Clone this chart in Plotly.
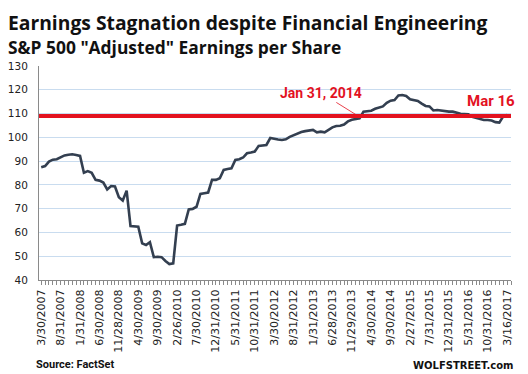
import plotly.graph_objects as go

# ---- data ----
tick_labels = ["3/30/2007", "8/31/2007", "1/31/2008", "6/30/2008", "11/28/2008",
               "4/30/2009", "9/30/2009", "2/26/2010", "7/30/2010", "12/31/2010",
               "5/31/2011", "10/31/2011", "3/30/2012", "8/31/2012", "1/31/2013",
               "6/28/2013", "11/29/2013", "4/30/2014", "9/30/2014", "2/27/2015",
               "7/31/2015", "12/31/2015", "5/31/2016", "10/31/2016", "3/16/2017"]
label_step = 5  # one label every 5 monthly points

eps = [87.4, 87.9, 89.8, 90.6, 90.8, 91.6, 92.4, 92.7, 92.9, 92.6,
       92.2, 85.1, 85.8, 85.1, 82.1, 81.8, 81.0, 78.1, 79.5, 79.3,
       74.8, 73.4, 77.6, 62.7, 62.7, 62.4, 55.4, 54.7, 55.9, 49.6,
       49.8, 49.6, 48.0, 46.7, 47.0, 62.9, 63.2, 63.6, 69.7, 69.9,
       70.8, 76.2, 76.5, 76.8, 82.1, 82.1, 82.8, 86.3, 86.7, 87.0,
       90.5, 90.8, 91.5, 93.3, 93.6, 94.0, 96.4, 96.5, 96.8, 99.7,
       99.3, 99.1, 98.9, 99.2, 100.2, 100.9, 101.3, 102.2, 102.6, 102.9,
       103.1, 102.1, 102.4, 102.1, 103.2, 104.2, 104.8, 104.9, 105.4, 106.7,
       107.4, 107.8, 108.0, 110.8, 111.1, 111.2, 112.0, 112.5, 113.0, 114.5,
       115.4, 115.7, 117.6, 117.8, 117.4, 116.0, 115.7, 115.3, 114.2, 113.2,
       113.0, 111.3, 111.5, 111.2, 111.0, 110.8, 110.8, 110.3, 109.9, 109.8,
       109.7, 108.6, 108.1, 107.6, 107.3, 107.3, 107.1, 106.4, 106.2, 108.8,
       109.4]

reference_level = 109.0        # Jan 31, 2014 level
jan2014_index = 81.6           # where the line crosses the level
annot_jan = "Jan 31, 2014"
annot_mar = "Mar 16"

x_idx = list(range(len(eps)))
tickvals = list(range(0, len(eps), label_step))

RED = "#e3121f"
LINE = "#333f50"
GRID = "#c9dcef"
AXIS = "#8a8a8a"
TXT = "#222222"

# page body has an 8px default margin: figure is 8px smaller and offset
OFF = 8
PL, PR, PT, PB = 39, 511, 66, 280   # plot area in screen pixels
PW, PH = PR - PL, PB - PT

def px(xs):
    return (xs - PL) / PW

def py(ys):
    return (PB - ys) / PH

fig = go.Figure()
fig.add_trace(go.Scatter(x=x_idx, y=eps, mode="lines",
                         line=dict(color=LINE, width=2.6), showlegend=False,
                         hoverinfo="skip"))

fig.add_shape(type="line", xref="x domain", yref="y", x0=0, x1=1,
              y0=reference_level, y1=reference_level,
              line=dict(color=RED, width=4))

fig.update_layout(
    width=528 - OFF, height=374 - OFF,
    margin=dict(l=PL - OFF, r=528 - PR, t=PT - OFF, b=374 - PB, autoexpand=False),
    paper_bgcolor="white", plot_bgcolor="white",
    showlegend=False,
    xaxis=dict(
        range=[-0.57, 121.0],
        tickmode="array", tickvals=tickvals, ticktext=tick_labels,
        tickangle=-90,
        tickfont=dict(family="DejaVu Sans", size=11, color=TXT),
        showgrid=False, zeroline=False,
        showline=True, linecolor=AXIS, linewidth=1,
        ticks="outside", ticklen=4, tickcolor=AXIS, tickwidth=1,
        minor=dict(dtick=1, tick0=0, ticks="outside", ticklen=4,
                   tickcolor=AXIS, tickwidth=1, showgrid=False),
        automargin=False,
    ),
    yaxis=dict(
        range=[40, 130], dtick=10, tick0=40,
        tickfont=dict(family="DejaVu Sans", size=10.5, color=TXT),
        showgrid=True, gridcolor=GRID, gridwidth=1,
        zeroline=False, showline=True, linecolor=AXIS, linewidth=1,
        ticks="", ticklabelstandoff=8, automargin=False,
    ),
)

fig.add_annotation(text="<b>Earnings Stagnation despite Financial Engineering</b>",
                   xref="paper", yref="paper", x=px(7), y=py(8),
                   xanchor="left", yanchor="top", showarrow=False,
                   borderpad=0,
                   font=dict(family="Open Sans", size=19.3, color="#111111"))
fig.add_annotation(text="<b>S&P 500 \"Adjusted\" Earnings per Share</b>",
                   xref="paper", yref="paper", x=px(7), y=py(47),
                   xanchor="left", yanchor="middle", showarrow=False,
                   borderpad=0,
                   font=dict(family="Open Sans", size=17.4, color="#111111"))
fig.add_annotation(text="<b>Source: FactSet</b>",
                   xref="paper", yref="paper", x=px(34), y=py(364),
                   xanchor="left", yanchor="middle", showarrow=False,
                   font=dict(family="Roboto", size=11, color="#111111"))
fig.add_annotation(text="<b>WOLFSTREET.com</b>",
                   xref="paper", yref="paper", x=px(515), y=py(365),
                   xanchor="right", yanchor="middle", showarrow=False,
                   font=dict(family="DejaVu Sans", size=10, color="#111111"))

fig.add_annotation(text="<b>" + annot_jan + "</b>", x=jan2014_index, y=reference_level,
                   xref="x", yref="y", ax=-37, ay=-23, showarrow=True,
                   arrowhead=0, arrowwidth=0.8, arrowcolor=RED,
                   font=dict(family="Roboto", size=14, color=RED))
fig.add_annotation(text="<b>" + annot_mar + "</b>", xref="paper", yref="paper",
                   x=px(491), y=py(101),
                   xanchor="center", yanchor="middle", showarrow=False,
                   font=dict(family="Roboto", size=15, color=RED))

fig.write_html("out.html")
